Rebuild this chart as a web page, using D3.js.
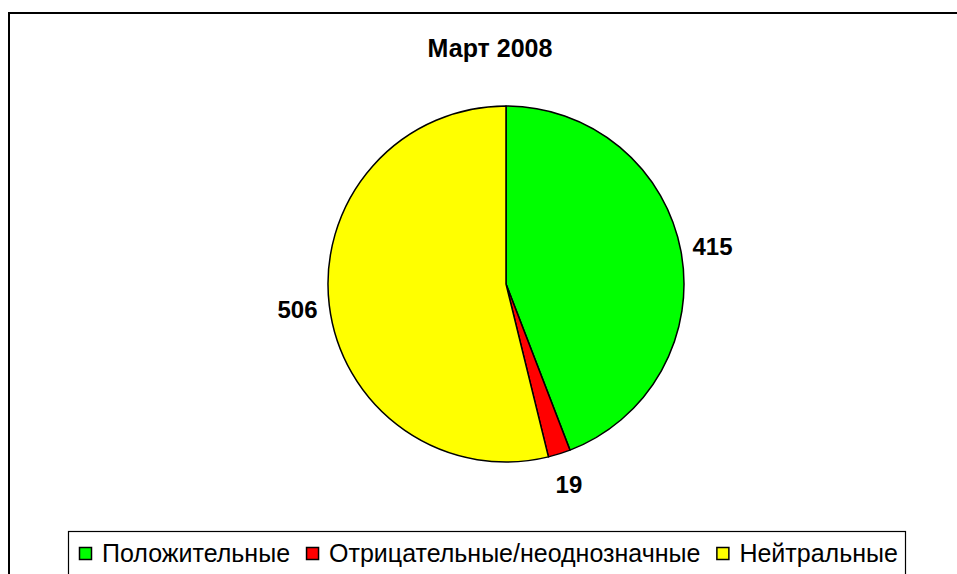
<!DOCTYPE html>
<html>
<head>
<meta charset="utf-8">
<script src="https://cdn.jsdelivr.net/npm/d3@7"></script>
<style>
  html, body { margin: 0; padding: 0; background: #fff; overflow: hidden; }
  text { font-family: Arial, "Liberation Sans", sans-serif; }
</style>
</head>
<body>
<script>
var width = 957;
var height = 574;

var title = 'Март 2008';
var categories = ['Положительные', 'Отрицательные/неоднозначные', 'Нейтральные'];
var values = [415, 19, 506];
var colors = ['#00ff00', '#ff0000', '#ffff00'];

var cx = 506, cy = 284, radius = 178, labelRadius = 210;

var svg = d3.select('body')
    .append('svg')
    .attr('width', width)
    .attr('height', height);

// outer frame (runs off the right and bottom edge)
svg.append('rect')
    .attr('x', 9).attr('y', 13)
    .attr('width', 1000).attr('height', 700)
    .attr('fill', 'none')
    .attr('stroke', '#000')
    .attr('stroke-width', 2);

svg.append('text')
    .attr('x', 490).attr('y', 57)
    .attr('text-anchor', 'middle')
    .attr('font-size', 25)
    .attr('font-weight', 'bold')
    .text(title);

var pie = d3.pie().sort(null).value(function(d) { return d; });
var arcs = pie(values);
var arc = d3.arc().innerRadius(0).outerRadius(radius);
var labelArc = d3.arc().innerRadius(labelRadius).outerRadius(labelRadius);

var g = svg.append('g').attr('transform', 'translate(' + cx + ',' + cy + ')');

g.selectAll('path')
    .data(arcs)
    .enter().append('path')
    .attr('d', arc)
    .attr('fill', function(d, i) { return colors[i]; })
    .attr('stroke', '#000')
    .attr('stroke-width', 1.5)
    .attr('stroke-linejoin', 'round');

g.selectAll('text.lbl')
    .data(arcs)
    .enter().append('text')
    .attr('class', 'lbl')
    .attr('x', function(d) { return labelArc.centroid(d)[0]; })
    .attr('y', function(d) { return labelArc.centroid(d)[1] + 9; })
    .attr('text-anchor', 'middle')
    .attr('font-size', 24)
    .attr('font-weight', 'bold')
    .text(function(d) { return d.data; });

// legend
svg.append('rect')
    .attr('x', 68.5).attr('y', 531.5)
    .attr('width', 837).attr('height', 100)
    .attr('fill', '#fff')
    .attr('stroke', '#000')
    .attr('stroke-width', 1.2);

var lx = 79;
categories.forEach(function(name, i) {
    svg.append('rect')
        .attr('x', lx + 0.5).attr('y', 547.5)
        .attr('width', 12).attr('height', 12)
        .attr('fill', colors[i])
        .attr('stroke', '#000')
        .attr('stroke-width', 1.5);
    var t = svg.append('text')
        .attr('x', lx + 23).attr('y', 562)
        .attr('font-size', 25)
        .text(name);
    lx += 23 + t.node().getComputedTextLength() + 16;
});
</script>
</body>
</html>
